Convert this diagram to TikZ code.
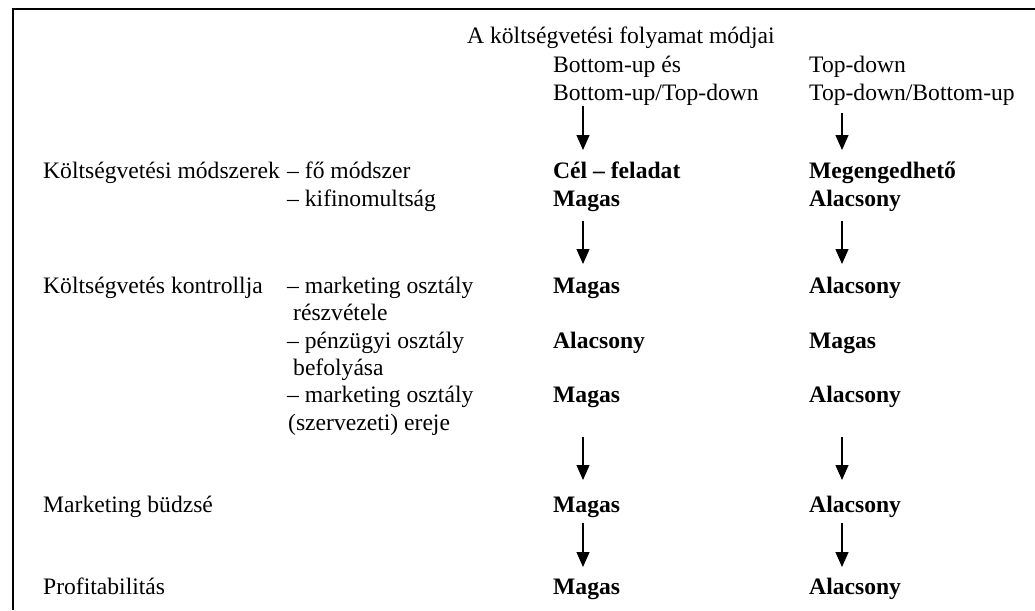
\documentclass[tikz,border=0pt]{standalone}
\usepackage{fontspec}
\setmainfont{Liberation Serif}
\usetikzlibrary{arrows.meta}
\begin{document}
\begin{tikzpicture}[x=1pt,y=-1pt,
  txt/.style={anchor=base west,inner sep=0pt,font=\fontsize{23.6}{27}\selectfont},
  bld/.style={anchor=base west,inner sep=0pt,font=\fontsize{23.6}{27}\selectfont\bfseries},
  arr/.style={line width=1.3pt,-{Triangle[length=15pt,width=13pt]}},
  frame/.style={line width=2.2pt}]
\useasboundingbox (0,0) rectangle (1035,610);
% frame
\coordinate (ftl) at (12.7,9.3);
\coordinate (ftr) at (1035,9.3);
\coordinate (fbl) at (12.7,610);
\draw[frame] (ftr) -- (ftl) -- (fbl);
% header
\node[txt] (title) at (467,44) {A költségvetési folyamat módjai};
\node[txt] (h1a) at (553,72) {Bottom-up és};
\node[txt] (h1b) at (553,100) {Bottom-up/Top-down};
\node[txt] (h2a) at (809,72) {Top-down};
\node[txt] (h2b) at (809,100) {Top-down/Bottom-up};
% row: methods
\node[txt] (l1) at (43,178) {Költségvetési módszerek};
\node[txt] (s1) at (287,178) {– fő módszer};
\node[bld] (c1) at (553,178) {Cél – feladat};
\node[bld] (d1) at (809,178) {Megengedhető};
\node[txt] (s2) at (287,206) {– kifinomultság};
\node[bld] (c2) at (553,206) {Magas};
\node[bld] (d2) at (809,206) {Alacsony};
% row: control
\node[txt] (l3) at (43,293) {Költségvetés kontrollja};
\node[txt] (s3) at (287,293) {– marketing osztály};
\node[txt] (s3b) at (293,320) {részvétele};
\node[bld] (c3) at (553,293) {Magas};
\node[bld] (d3) at (809,293) {Alacsony};
\node[txt] (s4) at (287,348) {– pénzügyi osztály};
\node[txt] (s4b) at (293,375) {befolyása};
\node[bld] (c4) at (553,348) {Alacsony};
\node[bld] (d4) at (809,348) {Magas};
\node[txt] (s5) at (287,402) {– marketing osztály};
\node[txt] (s5b) at (288,430) {(szervezeti) ereje};
\node[bld] (c5) at (553,402) {Magas};
\node[bld] (d5) at (809,402) {Alacsony};
% row: budget
\node[txt] (l6) at (43,512) {Marketing büdzsé};
\node[bld] (c6) at (553,512) {Magas};
\node[bld] (d6) at (809,512) {Alacsony};
% row: profitability
\node[txt] (l7) at (43,594) {Profitabilitás};
\node[bld] (c7) at (553,594) {Magas};
\node[bld] (d7) at (809,594) {Alacsony};
% arrow end points
\coordinate (a1s) at (583,106); \coordinate (a1e) at (583,150);
\coordinate (b1s) at (842,113); \coordinate (b1e) at (842,150);
\coordinate (a2s) at (583,221); \coordinate (a2e) at (583,264);
\coordinate (b2s) at (842,221); \coordinate (b2e) at (842,264);
\coordinate (a3s) at (583,437); \coordinate (a3e) at (583,480);
\coordinate (b3s) at (842,437); \coordinate (b3e) at (842,480);
\coordinate (a4s) at (583,523); \coordinate (a4e) at (583,567);
\coordinate (b4s) at (842,523); \coordinate (b4e) at (842,567);
\foreach \p in {a1,b1,a2,b2,a3,b3,a4,b4}{\draw[arr] (\p s) -- (\p e);}
\end{tikzpicture}
\end{document}
